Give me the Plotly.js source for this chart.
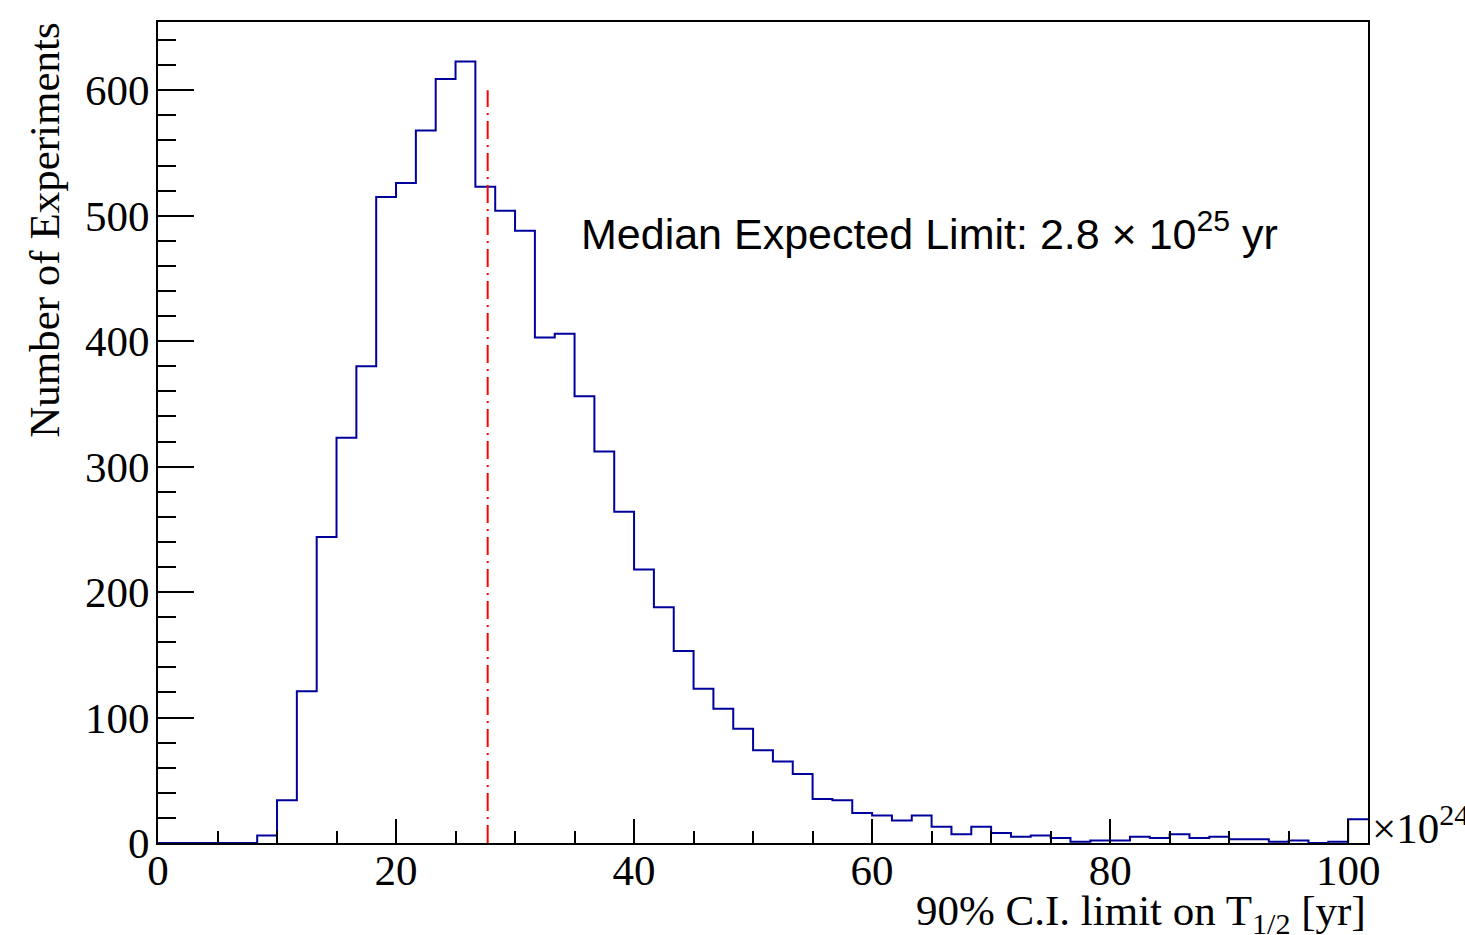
<!DOCTYPE html>
<html><head><meta charset="utf-8">
<script src="https://cdn.plot.ly/plotly-3.0.1.min.js"></script>
<style>html,body{margin:0;padding:0;background:#fff;} #chart{width:1465px;height:935px;}</style>
</head><body><div id="chart"></div>
<script>
// Histogram definition
const binLow = 0;
const binWidth = 5 / 3;
const counts = [0, 0, 0, 0, 0, 6, 34, 121, 244, 323,
  380, 515, 526, 568, 609, 623, 523, 504, 488, 403,
  406, 356, 312, 264, 218, 188, 153, 123, 107, 91,
  74, 65, 55, 35, 34, 24, 22, 18, 22, 13,
  7, 13, 8, 5, 6, 4, 1, 2, 2, 5,
  4, 7, 4, 5, 3, 3, 1, 2, 0, 1,
  19];
const medianLimit = 27.7;
const medianLineY = [0, 600];
const xTickVals = [0, 20, 40, 60, 80, 100];
const xTickText = ['0', '20', '40', '60', '80', '100'];
const yTickVals = [0, 100, 200, 300, 400, 500, 600];
const yTickText = ['0', '100', '200', '300', '400', '500', '600'];
const xRange = [0, 101.667];
const yRange = [0, 654.4];

const binEdges = counts.map((_, i) => binLow + i * binWidth);
const stepX = binEdges.concat([binLow + counts.length * binWidth]);
const stepY = counts.concat([counts[counts.length - 1]]);

const serif = 'Liberation Serif, Times New Roman, serif';
const sans = 'Liberation Sans, Arial, sans-serif';

const traces = [
  {
    type: 'scatter', mode: 'lines', x: stepX, y: stepY,
    line: {shape: 'hv', color: '#00009c', width: 2},
    hoverinfo: 'skip', showlegend: false
  },
  {
    type: 'scatter', mode: 'lines', x: [medianLimit, medianLimit], y: medianLineY,
    line: {color: '#ff0000', width: 2, dash: '18px,6px,2px,6px'},
    hoverinfo: 'skip', showlegend: false
  }
];

const layout = {
  width: 1465, height: 935,
  margin: {l: 158, r: 97, t: 22, b: 92},
  paper_bgcolor: '#ffffff', plot_bgcolor: '#ffffff',
  showlegend: false,
  xaxis: {
    range: xRange, tickmode: 'array', tickvals: xTickVals, ticktext: xTickText,
    ticks: 'inside', ticklen: 24, tickwidth: 2, tickcolor: '#000',
    showline: true, linewidth: 2, linecolor: '#000', mirror: true,
    showgrid: false, zeroline: false, ticklabelstandoff: -12,
    tickfont: {family: serif, size: 43, color: '#000'},
    minor: {tickmode: 'linear', tick0: 0, dtick: 5, ticks: 'inside', ticklen: 12, tickwidth: 2, tickcolor: '#000', showgrid: false}
  },
  yaxis: {
    range: yRange, tickmode: 'array', tickvals: yTickVals, ticktext: yTickText,
    ticks: 'inside', ticklen: 36, tickwidth: 2, tickcolor: '#000',
    showline: true, linewidth: 2, linecolor: '#000', mirror: true,
    showgrid: false, zeroline: false, ticklabelstandoff: -2,
    tickfont: {family: serif, size: 43, color: '#000'},
    minor: {tickmode: 'linear', tick0: 0, dtick: 20, ticks: 'inside', ticklen: 18, tickwidth: 2, tickcolor: '#000', showgrid: false}
  },
  annotations: [
    {
      text: 'Median Expected Limit: 2.8 × 10<sup>25</sup> yr',
      xref: 'paper', yref: 'paper', x: 0.348, y: 0.746,
      xanchor: 'left', yanchor: 'middle', showarrow: false,
      font: {family: sans, size: 43, color: '#000'}
    },
    {
      text: '90% C.I. limit on T<sub>1/2</sub> [yr]',
      xref: 'paper', yref: 'paper', x: 1, y: -0.051,
      xanchor: 'right', yanchor: 'top', showarrow: false,
      font: {family: serif, size: 43, color: '#000'}
    },
    {
      text: 'Number of Experiments',
      xref: 'paper', yref: 'paper', x: -0.094, y: 1.003,
      xanchor: 'center', yanchor: 'top', textangle: -90, showarrow: false,
      font: {family: serif, size: 43, color: '#000'}
    },
    {
      text: '×10<sup>24</sup>',
      xref: 'paper', yref: 'paper', x: 1.002, y: 0.022,
      xanchor: 'left', yanchor: 'middle', showarrow: false,
      font: {family: serif, size: 43, color: '#000'}
    }
  ]
};

Plotly.newPlot('chart', traces, layout, {displayModeBar: false, staticPlot: true});
</script>
</body></html>
